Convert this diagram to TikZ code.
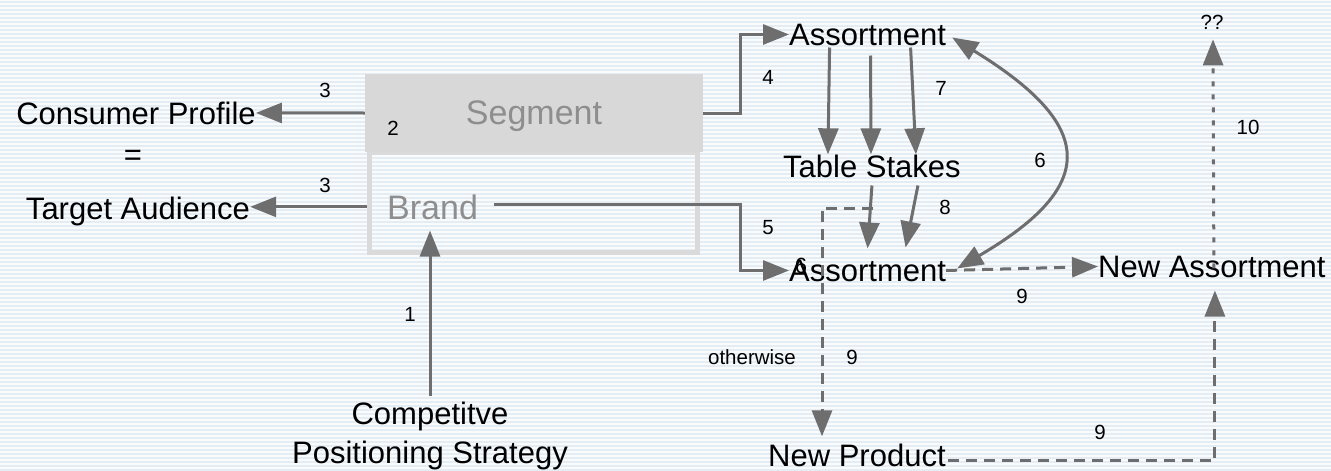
\documentclass[tikz,border=0pt]{standalone}
\usepackage{fontspec}
\setmainfont{Liberation Sans}
\usetikzlibrary{arrows.meta,calc}

\definecolor{linegray}{RGB}{110,110,110}
\definecolor{headfill}{RGB}{216,216,216}
\definecolor{framegray}{RGB}{218,218,218}
\definecolor{softtext}{RGB}{142,142,142}
\definecolor{bgbase}{RGB}{249,251,253}
\definecolor{bgstripe}{RGB}{228,236,244}

\tikzset{
  big/.style={font=\fontsize{31}{36}\selectfont, inner sep=0pt},
  small/.style={font=\fontsize{20.5}{24}\selectfont, inner sep=0pt},
  soft/.style={font=\fontsize{34}{40}\selectfont, text=softtext, inner sep=0pt},
  conn/.style={draw=linegray, line width=3pt, -{Triangle[length=26pt,width=20pt]}},
  dconn/.style={conn, dash pattern=on 11pt off 7pt},
  dotconn/.style={conn, dash pattern=on 5pt off 8pt},
  bothconn/.style={draw=linegray, line width=3pt, {Triangle[length=26pt,width=20pt]}-{Triangle[length=26pt,width=20pt]}},
}

\begin{document}
\begin{tikzpicture}[x=1pt, y=-1pt]
  % striped backdrop
  \fill[bgbase] (0,0) rectangle (1331,470);
  \foreach \i in {0,...,117} {
    \fill[bgstripe] (0,4*\i+1) rectangle (1331,4*\i+3);
  }
  \useasboundingbox (0,0) rectangle (1331,470);

  % segment / brand table
  \node[draw=framegray, line width=5pt, minimum width=328pt, minimum height=100pt, inner sep=0pt] (frame) at (533,202) {};
  \node[fill=headfill, minimum width=338pt, minimum height=78pt, inner sep=0pt] (seg) at (534,113) {};
  \node[soft] (segtext) at (534,116) {Segment};
  \node[soft, anchor=base west] (brand) at (387,219) {Brand};

  % left side
  \node[big, anchor=base] (cp) at (136,124) {Consumer Profile};
  \node[big] (eq) at (133,158) {=};
  \node[big, anchor=base] (ta) at (138,219) {Target Audience};

  % bottom left
  \node[big, anchor=base] (cps1) at (430,424) {Competitve};
  \node[big, anchor=base] (cps2) at (430,463) {Positioning Strategy};

  % right side
  \node[big, anchor=base west] (a1) at (789,45) {Assortment};
  \node[big, anchor=base west] (ts) at (783,177) {Table Stakes};
  \node[big, anchor=base west] (a2) at (789,281) {Assortment};
  \node[font=\fontsize{22}{26}\selectfont, inner sep=0pt] (stray) at (801,266) {6};
  \node[big, anchor=base west] (na) at (1098,277) {New Assortment};
  \node[big, anchor=base west] (np) at (768,466) {New Product};
  \node[small] (qq) at (1212,22) {??};

  % junction points
  \coordinate (j4) at (740,0);
  \coordinate (split) at (873,208);
  \coordinate (j9) at (822,208);

  % connectors
  \draw[conn] (seg.west) -- (cp.east);
  \draw[conn] (frame.west |- brand) -- (ta.east |- brand);
  \draw[conn] ($(cps1.north)+(0,-5)$) -- ($(cps1 |- brand.south)+(0,11)$);

  \draw[conn] (seg.east) -- (seg.east -| j4) -- (j4 |- a1.west) -- (a1.west);
  \draw[conn] ($(brand.east)+(16,-2)$) -- ($(j4 |- brand.east)+(0,-2)$) -- (j4 |- a2.west) -- (a2.west);

  \draw[conn] ($(a1.south)+(-38,2)$) -- ($(ts.north)+(-44,0)$);
  \draw[conn] ($(a1.south)+(3,10)$) -- ($(ts.north)+(-1,0)$);
  \draw[conn] ($(a1.south)+(43,2)$) -- ($(ts.north)+(44,0)$);

  \draw[conn] ($(ts.south)+(0,8)$) -- ($(a2.north)+(0,-11)$);
  \draw[conn] ($(ts.south)+(46,8)$) -- ($(a2.north)+(38,-12)$);

  \draw[dconn] (split) -- (j9) -- ($(j9 |- np.north)+(0,-7)$);

  \draw[bothconn] ($(a1.east)+(6,3)$) .. controls (1095,125) and (1100,185) .. ($(a2.east)+(11,-2)$);

  \draw[dconn] (a2.east) -- (na.west);
  \draw[dconn] ($(np.east)+(2,6)$) -| ($(na.south)+(3,13)$);
  \draw[dotconn] ($(na.north)+(2,13)$) -- ($(qq.south)+(1,10)$);

  % step labels
  \node[small] (l3a) at (325,90) {3};
  \node[small] (l3b) at (325,185) {3};
  \node[small] (l2) at (393,128) {2};
  \node[small] (l1) at (410,314) {1};
  \node[small] (l4) at (768,77) {4};
  \node[small] (l5) at (768,228) {5};
  \node[small] (l7) at (941,88) {7};
  \node[small] (l8) at (945,207) {8};
  \node[small] (l6) at (1040,160) {6};
  \node[small] (l9a) at (1022,296) {9};
  \node[small] (lother) at (752,357) {otherwise};
  \node[small] (l9b) at (852,357) {9};
  \node[small] (l9c) at (1100,432) {9};
  \node[small] (l10) at (1248,127) {10};
\end{tikzpicture}
\end{document}
